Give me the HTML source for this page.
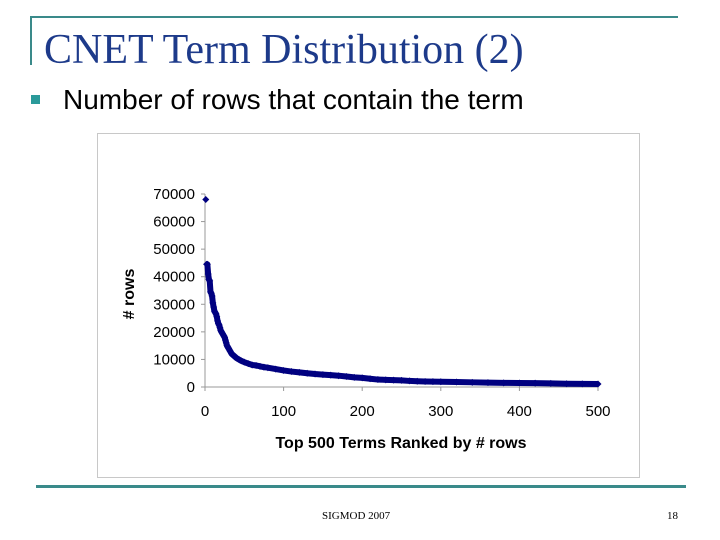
<!DOCTYPE html>
<html><head><meta charset="utf-8"><style>
body{margin:0;width:720px;height:540px;background:#fff;position:relative;overflow:hidden}
.a{position:absolute}
</style></head><body>
<div class="a" style="left:30px;top:16px;width:648px;height:2px;background:#3a8a8a"></div>
<div class="a" style="left:30px;top:16px;width:2px;height:49px;background:#3a8a8a"></div>
<div class="a" style="left:44px;top:26px;font:42px 'Liberation Serif',serif;color:#1d3a8a;white-space:nowrap">CNET Term Distribution (2)</div>
<div class="a" style="left:31px;top:95px;width:9px;height:9px;background:#2a9a9a"></div>
<div class="a" style="left:63px;top:84px;font:28px 'Liberation Sans',sans-serif;color:#000;white-space:nowrap">Number of rows that contain the term</div>
<div class="a" style="left:97px;top:133px;width:541px;height:343px;border:1px solid #c8c8c8"></div>
<div class="a" style="left:36px;top:485px;width:650px;height:3px;background:#3a8a8a"></div>
<div class="a" style="left:322px;top:510px;font:11px 'Liberation Serif',serif;color:#000">SIGMOD 2007</div>
<div class="a" style="left:667px;top:510px;font:11px 'Liberation Serif',serif;color:#000">18</div>
<svg class="a" style="left:0;top:0" width="720" height="540">
<g id="axes"></g><g id="marks"></g>
<text x="134" y="294" transform="rotate(-90 134 294)" text-anchor="middle" font-family="Liberation Sans" font-weight="bold" font-size="16"># rows</text>
<text x="401" y="448" text-anchor="middle" font-family="Liberation Sans" font-weight="bold" font-size="16">Top 500 Terms Ranked by # rows</text>
</svg>
<script>
const ranks=[1,2,3,4,5,6,7,8,9,10,11,12,13,14,15,16,17,18,19,20,21,22,23,24,25,26,27,28,29,30,32,34,36,38,40,43,46,50,55,60,65,70,75,80,90,100,110,120,130,140,150,160,170,180,190,200,210,220,230,240,250,260,270,280,290,300,320,340,360,380,400,420,440,460,480,500];
const rows=[68000,44500,44500,41000,39000,38500,34500,34000,33000,30500,29000,27500,27000,26500,25500,24000,23000,22500,21500,20500,20000,19500,19000,18500,18000,17000,16000,15000,14500,14000,13000,12000,11500,11000,10500,10000,9500,9000,8500,8000,7800,7500,7200,7000,6500,6000,5600,5300,5000,4700,4500,4300,4100,3800,3500,3300,3000,2700,2600,2500,2400,2200,2100,2000,1950,1900,1800,1700,1600,1500,1450,1400,1300,1200,1150,1100];
const xTicks=[0,100,200,300,400,500];
const yTicks=[0,10000,20000,30000,40000,50000,60000,70000];
const X=v=>205+v*(598-205)/500, Y=v=>387-v*(387-194)/70000;
const NS='http://www.w3.org/2000/svg';
const ax=document.getElementById('axes'), mk=document.getElementById('marks');
function el(t,a,p){const e=document.createElementNS(NS,t);for(const k in a)e.setAttribute(k,a[k]);p.appendChild(e);return e;}
const yl=el('line',{x1:X(0),y1:Y(0),x2:X(0),y2:Y(70000),stroke:'#999'},ax);


const xl=el('line',{x1:X(0),y1:Y(0),x2:X(500),y2:Y(0),stroke:'#999'},ax);


yTicks.forEach(v=>{el('line',{x1:X(0)-4,x2:X(0),y1:Y(v),y2:Y(v),stroke:'#999'},ax);
const t=el('text',{x:X(0)-10,y:Y(v)+5,'text-anchor':'end','font-family':'Liberation Sans','font-size':'15'},ax);t.textContent=v;

});
xTicks.forEach(v=>{el('line',{x1:X(v),x2:X(v),y1:Y(0),y2:Y(0)+4,stroke:'#999'},ax);
const t=el('text',{x:X(v),y:Y(0)+29,'text-anchor':'middle','font-family':'Liberation Sans','font-size':'15'},ax);t.textContent=v;

});
const pts=ranks.slice(1).map((r,i)=>X(r)+','+Y(rows[i+1])).join(' ');
const pl=el('polyline',{points:pts,fill:'none',stroke:'#000080','stroke-width':6,'stroke-linejoin':'round'},mk);


ranks.forEach((r,i)=>{const x=X(r),y=Y(rows[i]);
const d=el('polygon',{points:`${x},${y-3.5} ${x+3.5},${y} ${x},${y+3.5} ${x-3.5},${y}`,fill:'#000080'},mk);

});
</script>
</body></html>
